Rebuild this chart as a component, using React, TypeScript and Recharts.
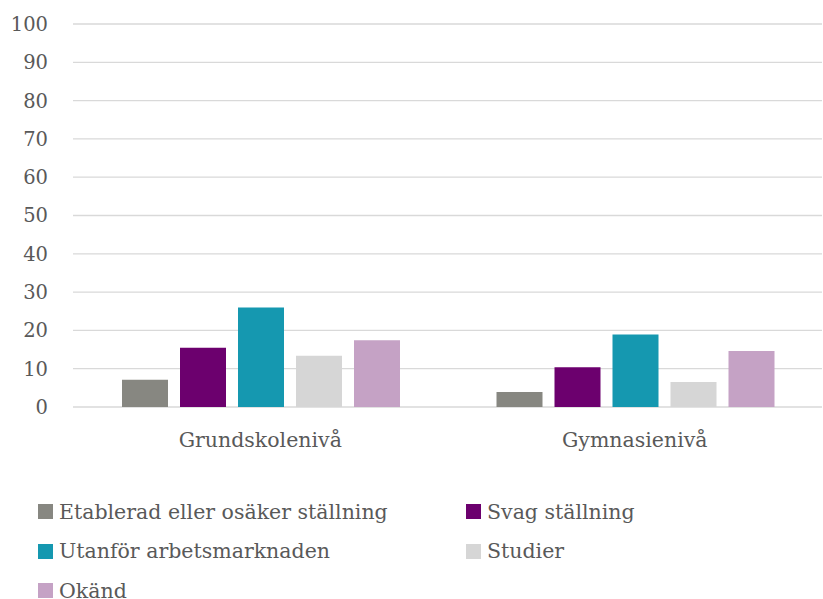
import { BarChart, Bar, XAxis, YAxis, CartesianGrid, Legend } from 'recharts'

const categories = ['Grundskolenivå', 'Gymnasienivå']
const etablerad = [7.1, 3.9]
const svag = [15.5, 10.4]
const utanfor = [26.0, 18.9]
const studier = [13.4, 6.5]
const okand = [17.4, 14.6]
const yTicks = [0, 10, 20, 30, 40, 50, 60, 70, 80, 90, 100]

const seriesNames = [
  'Etablerad eller osäker ställning',
  'Svag ställning',
  'Utanför arbetsmarknaden',
  'Studier',
  'Okänd',
]
const seriesColors = ['#878781', '#6c006e', '#1598b0', '#d6d6d6', '#c5a2c5']

const data = categories.map((name, i) => ({
  name,
  s0: etablerad[i],
  s1: svag[i],
  s2: utanfor[i],
  s3: studier[i],
  s4: okand[i],
}))

const FONT = '"DejaVu Serif", serif'
const TEXT = '#595959'

// legend in two columns, filled row by row, in series order
function renderLegend(props: any) {
  const items = [...(props.payload || [])].sort(
    (a: any, b: any) => seriesNames.indexOf(a.value) - seriesNames.indexOf(b.value)
  )
  return (
    <div
      style={{
        display: 'grid',
        gridTemplateColumns: '428px 340px',
        paddingLeft: 38,
        paddingTop: 3,
        fontFamily: FONT,
        fontSize: 20.5,
        color: TEXT,
      }}
    >
      {items.map((it: any) => (
        <div
          key={it.value}
          style={{ height: 39.5, display: 'flex', alignItems: 'center', whiteSpace: 'nowrap' }}
        >
          <span
            style={{
              display: 'inline-block',
              width: 15,
              height: 15,
              background: it.color,
              marginRight: 6,
              flexShrink: 0,
            }}
          />
          <span>{it.value}</span>
        </div>
      ))}
    </div>
  )
}

export default function App() {
  return (
    <div style={{ position: 'absolute', left: 0, top: 0, background: '#fff' }}>
      <BarChart
        width={823}
        height={599}
        data={data}
        margin={{ top: 24, right: 1, left: 0, bottom: 0 }}
        barCategoryGap={49}
        barGap={12}
      >
        <CartesianGrid vertical={false} stroke="#d9d9d9" strokeWidth={1.3} />
        <XAxis
          dataKey="name"
          axisLine={false}
          tickLine={false}
          tickSize={0}
          tickMargin={25}
          height={82}
          tick={{ fontFamily: FONT, fontSize: 20.5, fill: TEXT }}
        />
        <YAxis
          domain={[0, 100]}
          ticks={yTicks}
          axisLine={false}
          tickLine={false}
          tickSize={0}
          tickMargin={25}
          width={73}
          tick={{ fontFamily: FONT, fontSize: 19.5, fill: TEXT }}
        />
        <Legend
          content={renderLegend}
          wrapperStyle={{ position: 'absolute', top: 489, left: 0, width: 823, height: 110 }}
        />
        {seriesNames.map((n, i) => (
          <Bar
            key={n}
            dataKey={`s${i}`}
            name={n}
            fill={seriesColors[i]}
            isAnimationActive={false}
          />
        ))}
      </BarChart>
    </div>
  )
}
